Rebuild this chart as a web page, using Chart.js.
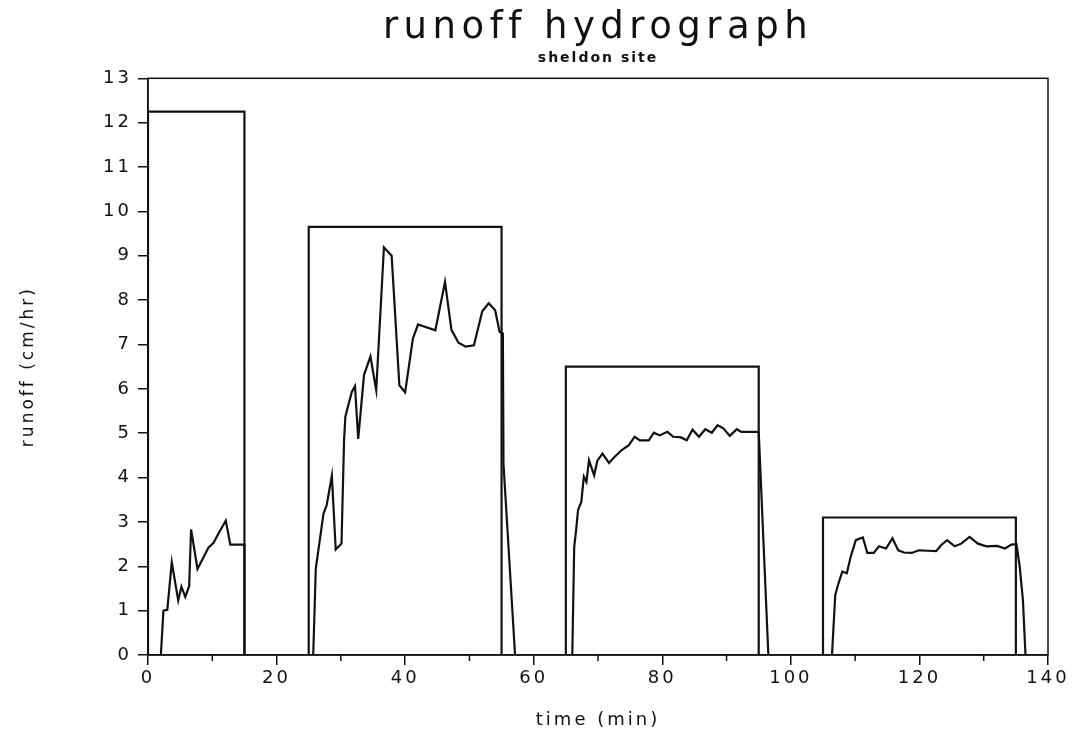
<!DOCTYPE html>
<html>
<head>
<meta charset="utf-8">
<script src="https://cdn.jsdelivr.net/npm/chart.js@4/dist/chart.umd.min.js"></script>
<style>
  html, body { margin: 0; padding: 0; background: #fff; }
  #wrap { width: 1074px; height: 737px; }
</style>
</head>
<body>
<div id="wrap"><canvas id="hydroChart"></canvas></div>
<script>
// rainfall (applied rate) per event
const rainStart = [0, 25, 65, 105];
const rainEnd = [15, 55, 95, 135];
const rainRate = [12.25, 9.65, 6.5, 3.1];

// runoff, one pair of arrays per event
const runoffTime1 = [2.0, 2.4, 3.0, 3.7, 4.7, 5.2, 5.8, 6.4, 6.7, 7.7, 9.4, 10.2, 10.9, 12.1, 12.8, 15.0, 15.0];
const runoffRate1 = [0, 1.0, 1.02, 2.09, 1.23, 1.54, 1.31, 1.55, 2.83, 1.94, 2.42, 2.53, 2.72, 3.03, 2.49, 2.49, 0];

const runoffTime2 = [25.7, 26.1, 27.3, 27.8, 28.6, 29.2, 30.1, 30.5, 30.7, 31.7, 32.2, 32.7, 33.6, 34.6, 35.5, 36.7, 37.9, 39.1, 40.0, 41.2, 42.0, 44.7, 46.2, 47.2, 48.3, 49.4, 50.7, 52.0, 53.0, 54.0, 54.7, 55.2, 55.3, 57.1];
const runoffRate2 = [0, 1.95, 3.19, 3.38, 4.04, 2.38, 2.51, 4.84, 5.37, 5.93, 6.06, 4.87, 6.31, 6.73, 5.97, 9.19, 9.0, 6.08, 5.92, 7.13, 7.45, 7.32, 8.41, 7.33, 7.04, 6.95, 6.98, 7.75, 7.93, 7.77, 7.28, 7.25, 4.3, 0];

const runoffTime3 = [66.0, 66.3, 66.6, 66.9, 67.4, 67.8, 68.2, 68.6, 69.4, 69.9, 70.7, 71.7, 72.6, 73.7, 74.8, 75.7, 76.5, 77.9, 78.7, 79.6, 80.8, 81.7, 82.8, 83.8, 84.7, 85.7, 86.7, 87.7, 88.6, 89.5, 90.5, 91.6, 92.3, 95.0, 96.5];
const runoffRate3 = [0, 2.44, 2.82, 3.27, 3.45, 4.02, 3.9, 4.39, 4.05, 4.38, 4.54, 4.33, 4.47, 4.62, 4.73, 4.92, 4.84, 4.84, 5.01, 4.95, 5.03, 4.92, 4.91, 4.84, 5.08, 4.92, 5.09, 5.01, 5.18, 5.11, 4.94, 5.09, 5.03, 5.03, 0];

const runoffTime4 = [106.4, 106.9, 107.4, 108.0, 108.7, 109.3, 110.1, 111.2, 111.9, 112.9, 113.7, 114.8, 115.8, 116.7, 117.6, 118.8, 119.9, 121.4, 122.6, 123.4, 124.3, 125.5, 126.5, 127.8, 129.1, 130.4, 132.1, 133.3, 134.3, 135.1, 135.6, 136.1, 136.5];
const runoffRate4 = [0, 1.35, 1.61, 1.88, 1.84, 2.21, 2.59, 2.65, 2.3, 2.3, 2.45, 2.4, 2.63, 2.36, 2.31, 2.3, 2.36, 2.35, 2.34, 2.48, 2.59, 2.45, 2.51, 2.66, 2.51, 2.45, 2.46, 2.4, 2.49, 2.5, 1.99, 1.24, 0];

const xTicks = [0, 20, 40, 60, 80, 100, 120, 140];
const xMinorTicks = [10, 30, 50, 70, 90, 110, 130];

const FONT = "'DejaVu Sans', sans-serif";

// rain boxes as an outline
const rainPts = [];
rainStart.forEach((s, i) => {
  rainPts.push({x: s, y: 0}, {x: s, y: rainRate[i]}, {x: rainEnd[i], y: rainRate[i]}, {x: rainEnd[i], y: 0});
});

function toPts(t, v) {
  return t.map((x, i) => ({x: x, y: v[i]}));
}

const lineStyle = {
  borderColor: "#111",
  borderWidth: 2.2,
  pointRadius: 0,
  tension: 0,
  fill: false
};

const runoffSets = [
  [runoffTime1, runoffRate1],
  [runoffTime2, runoffRate2],
  [runoffTime3, runoffRate3],
  [runoffTime4, runoffRate4]
].map(([t, v], i) => Object.assign({label: "runoff " + (i + 1), data: toPts(t, v)}, lineStyle));

// old plotter look: spaced out lettering (own spacing for title and subtitle)
function wrapSpacing(ctx, box, px) {
  if (!box || box._spaced) return;
  const orig = box.draw;
  box.draw = function () {
    ctx.letterSpacing = px;
    orig.apply(this, arguments);
    ctx.letterSpacing = "3px";
  };
  box._spaced = true;
}

const spacing = {
  id: "spacing",
  beforeDraw(chart) {
    const ctx = chart.ctx;
    ctx.letterSpacing = "3px";
    chart.boxes.forEach(b => {
      if (b === chart.titleBlock) wrapSpacing(ctx, b, "5.5px");
      else if (b.options && b.options.text === "sheldon site") wrapSpacing(ctx, b, "2px");
    });
  },
  afterDraw(chart) { chart.ctx.letterSpacing = "0px"; }
};

// frame on top/right plus short minor ticks on x
const frameAndTicks = {
  id: "frameAndTicks",
  afterDraw(chart) {
    const ctx = chart.ctx;
    const a = chart.chartArea;
    const xs = chart.scales.x;
    ctx.save();
    ctx.strokeStyle = "#111";
    ctx.lineWidth = 1.5;
    ctx.strokeRect(a.left, a.top, a.right - a.left, a.bottom - a.top);
    ctx.beginPath();
    xMinorTicks.forEach(v => {
      const px = xs.getPixelForValue(v);
      ctx.moveTo(px, a.bottom);
      ctx.lineTo(px, a.bottom + 6);
    });
    ctx.stroke();
    ctx.restore();
  }
};

new Chart(document.getElementById("hydroChart"), {
  type: "line",
  data: {
    datasets: [Object.assign({label: "rainfall", data: rainPts}, lineStyle)].concat(runoffSets)
  },
  options: {
    responsive: true,
    maintainAspectRatio: false,
    animation: false,
    layout: {padding: {left: 18, right: 26, top: 0, bottom: 0}},
    plugins: {
      legend: {display: false},
      tooltip: {enabled: false},
      title: {
        display: true,
        fullSize: false,
        text: "runoff hydrograph",
        color: "#111",
        font: {family: FONT, size: 37, weight: "normal", lineHeight: 1.0},
        padding: {top: 10, bottom: 0}
      },
      subtitle: {
        display: true,
        fullSize: false,
        text: "sheldon site",
        color: "#111",
        font: {family: FONT, size: 14, weight: "bold"},
        padding: {top: 3, bottom: 11.5}
      }
    },
    scales: {
      x: {
        type: "linear",
        min: 0,
        max: 140,
        border: {color: "#111", width: 1.5},
        grid: {drawOnChartArea: false, drawTicks: true, tickLength: 10, color: "#111", lineWidth: 1.5},
        afterBuildTicks: s => { s.ticks = xTicks.map(v => ({value: v})); },
        afterFit: s => { s.height = 82; },
        ticks: {color: "#111", font: {family: FONT, size: 18}, padding: 3, maxRotation: 0},
        title: {display: true, text: "time (min)", color: "#111", font: {family: FONT, size: 18}, padding: {top: 0, bottom: 6}}
      },
      y: {
        min: 0,
        max: 13,
        border: {color: "#111", width: 1.5},
        grid: {drawOnChartArea: false, drawTicks: true, tickLength: 10, color: "#111", lineWidth: 1.5},
        afterFit: s => { s.width = 130; },
        ticks: {stepSize: 1, color: "#111", font: {family: FONT, size: 18}, padding: 6},
        title: {display: true, text: "runoff (cm/hr)", color: "#111", font: {family: FONT, size: 17}, padding: {top: 0, bottom: 0}}
      }
    }
  },
  plugins: [spacing, frameAndTicks]
});
</script>
</body>
</html>
